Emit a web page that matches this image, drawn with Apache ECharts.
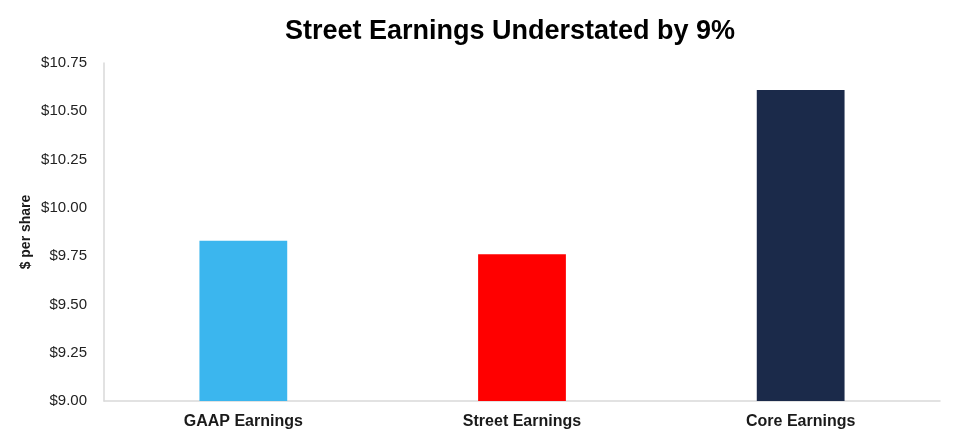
<!DOCTYPE html>
<html>
<head>
  <meta charset="utf-8" />
  <title>Street Earnings Understated</title>
  <style>
    html, body { margin: 0; padding: 0; background: #ffffff; }
  </style>
  <script src="https://cdn.jsdelivr.net/npm/echarts@6/dist/echarts.min.js"></script>
</head>
<body>
  <div id="main" style="width: 958px; height: 439px;"></div>
  <script type="text/javascript">
    // data
    var categories = ['GAAP Earnings', 'Street Earnings', 'Core Earnings'];
    var values = [9.83, 9.76, 10.61];
    var barColors = ['#3bb6ee', '#ff0000', '#1b2a4a'];

    var myChart = echarts.init(document.getElementById('main'));

    var option = {
      animation: false,
      title: {
        text: 'Street Earnings Understated by 9%',
        left: 280,
        top: 13,
        textStyle: {
          fontFamily: 'Liberation Sans',
          fontSize: 27,
          fontWeight: 'bold',
          color: '#000'
        }
      },
      grid: {
        left: 104,
        right: 18,
        top: 63,
        bottom: 38
      },
      xAxis: {
        type: 'category',
        data: categories,
        axisTick: { show: false },
        axisLine: { lineStyle: { color: '#d9d9d9', width: 1.5 } },
        axisLabel: {
          margin: 13,
          fontFamily: 'Liberation Sans',
          fontSize: 16,
          fontWeight: 'bold',
          color: '#1a1a1a'
        }
      },
      yAxis: {
        type: 'value',
        min: 9,
        max: 10.75,
        interval: 0.25,
        name: '$ per share',
        nameLocation: 'middle',
        nameGap: 71,
        nameMoveOverlap: false,
        nameTextStyle: {
          fontFamily: 'Liberation Sans',
          fontSize: 14,
          fontWeight: 'bold',
          color: '#1a1a1a'
        },
        axisLine: { show: true, lineStyle: { color: '#d9d9d9', width: 1.5 } },
        axisTick: { show: false },
        splitLine: { show: false },
        axisLabel: {
          margin: 17,
          fontFamily: 'Liberation Sans',
          fontSize: 15,
          color: '#222',
          formatter: function (v) { return '$' + v.toFixed(2); }
        }
      },
      series: [{
        type: 'bar',
        barWidth: '31.5%',
        data: values.map(function (v, i) {
          return { value: v, itemStyle: { color: barColors[i] } };
        })
      }]
    };
    myChart.setOption(option);
  </script>
</body>
</html>
